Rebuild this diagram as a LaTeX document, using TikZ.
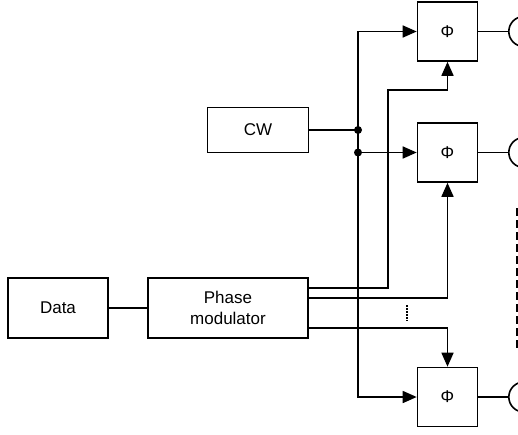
\documentclass[tikz,border=0pt]{standalone}
\usepackage{fontspec}
\setmainfont{Liberation Sans}
\usetikzlibrary{arrows.meta}
\tikzset{
  blk/.style={draw, line width=1.6pt, inner sep=0pt, align=center,
    font=\fontsize{17}{21}\selectfont},
  phibox/.style={blk, minimum width=60pt, minimum height=59pt},
  det/.style={circle, draw, line width=1.6pt, minimum size=30pt, inner sep=0pt, anchor=west},
  wire/.style={line width=1.6pt},
  sig/.style={wire, -{Triangle[length=14pt, width=12pt]}},
  joint/.style={circle, fill, inner sep=0pt, minimum size=8pt},
}
\begin{document}
\begin{tikzpicture}[x=1pt, y=-1pt]
\useasboundingbox (0,0) rectangle (518,434);
\clip (0,0) rectangle (518,434);

%% ─── Source blocks ─────────────────────────────────────────────────────────
\node[blk, minimum width=100pt, minimum height=60pt] (data) at (58,308) {Data};
\node[blk, minimum width=160pt, minimum height=60pt] (pm) at (228,308) {Phase\\modulator};
\node[blk, minimum width=101pt, minimum height=45pt] (cw) at (258,130) {CW};

%% ─── Phase shifters and detectors ──────────────────────────────────────────
\foreach \k/\cy in {1/31.5, 2/152.5, 3/397} {
  \node[phibox] (phi\k) at (447.5,\cy) {Φ};
  \node[det] (det\k) at (508,\cy) {};
  \draw[wire] (phi\k) -- (det\k);
}

%% ─── CW distribution bus ───────────────────────────────────────────────────
\coordinate (j1) at (358,130);
\coordinate (j2) at (358,152.5);
\node[joint] at (j1) {};
\node[joint] at (j2) {};
\draw[wire] (data) -- (pm);
\draw[wire] (cw) -- (j1);
\draw[sig] (j1) |- (phi1.west);
\draw[sig] (j2) -- (phi2.west);
\draw[sig] (j1) |- (phi3.west);

%% ─── Modulator outputs ─────────────────────────────────────────────────────
\coordinate (t1) at (388,90);
\draw[sig] ([yshift=20pt]pm.east) -| (t1) -| (phi1.south);
\draw[sig] ([yshift=10pt]pm.east) -| (phi2.south);
\draw[sig] ([yshift=-20pt]pm.east) -| (phi3.north);

%% ─── Ellipsis marks ────────────────────────────────────────────────────────
\draw[wire, dash pattern=on 1.5pt off 1.5pt] (407,305) -- (407,321);
\draw[wire, dash pattern=on 8pt off 4pt] (517,208) -- (517,348);

\end{tikzpicture}
\end{document}
